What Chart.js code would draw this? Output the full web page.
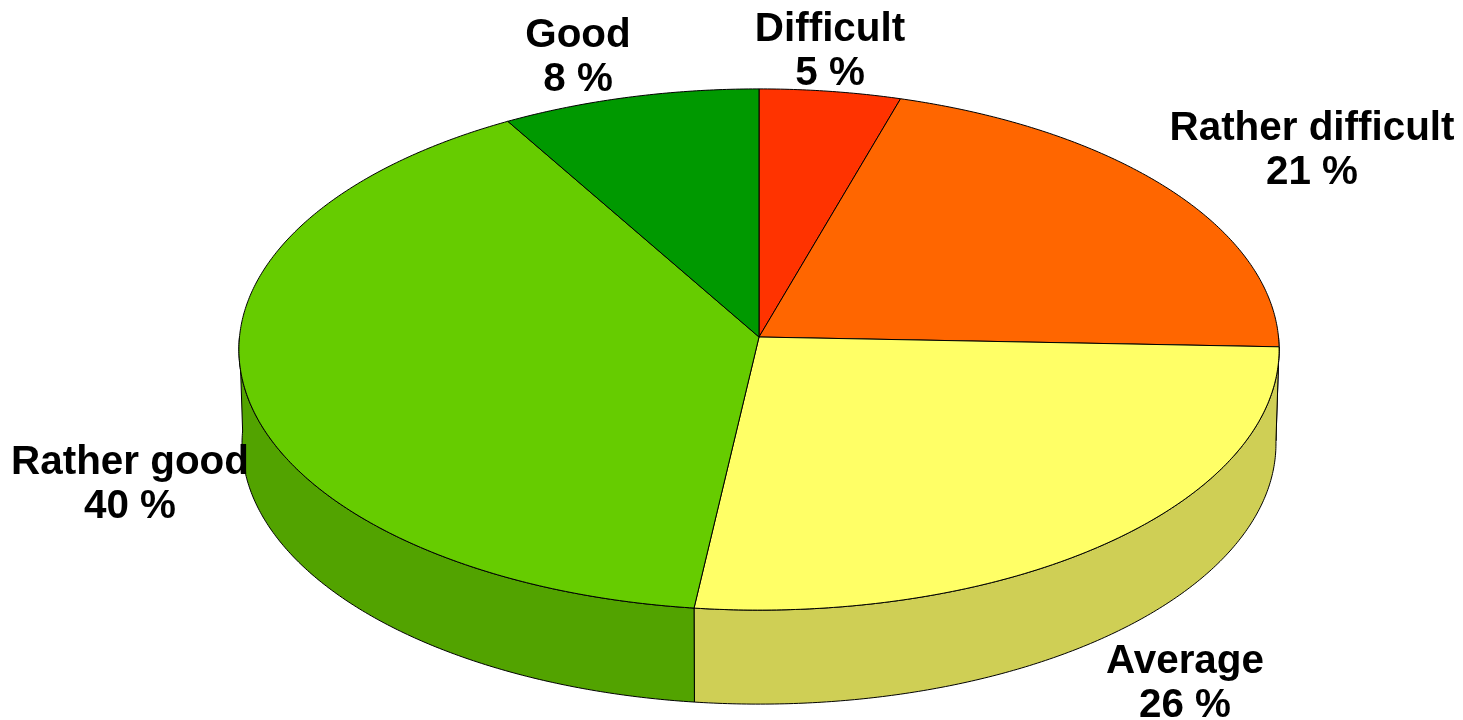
<!DOCTYPE html>
<html>
<head>
<meta charset="utf-8">
<style>
  html, body { margin: 0; padding: 0; background: #fff; overflow: hidden; }
  canvas { display: block; }
</style>
<script src="https://cdn.jsdelivr.net/npm/chart.js@4"></script>
</head>
<body>
<canvas id="pie" width="1463" height="720"></canvas>
<script>
// values, clockwise from 12 o'clock
const categories = ["Difficult", "Rather difficult", "Average", "Rather good", "Good"];
const shares = [4.6, 21, 26.3, 39.7, 8.4];
const topColors = ["#ff3300", "#ff6600", "#ffff66", "#66cc00", "#009900"];
const wallColors = ["#cc2900", "#cc5200", "#cfcf55", "#52a300", "#007a00"];

// label centres, first line baseline
const labelSpots = [[830, 41], [1312, 140], [1185, 673], [130, 474], [578, 47]];

// slightly perspective tilted disc
const view = { cx: 759, cy: 337, rx: 519.5, ry: 260, k: 0.048, depth: 94, shrink: 0.994 };

function topPoint(a) {
  const u = Math.cos(a), v = Math.sin(a);
  const d = 1 - view.k * v;
  return [view.cx + view.rx * u / d, view.cy + view.ry * v / d];
}

function bottomPoint(a) {
  const p = topPoint(a);
  return [view.cx + (p[0] - view.cx) * view.shrink, p[1] + view.depth];
}

const pie3d = {
  id: "pie3d",
  beforeDatasetsDraw(chart) {
    const ctx = chart.ctx;
    const arcs = chart.getDatasetMeta(0).data;
    const step = Math.PI / 360;
    ctx.save();
    ctx.lineWidth = 1;
    ctx.strokeStyle = "#000";
    ctx.lineJoin = "round";

    // walls, front half only
    arcs.forEach((arc, i) => {
      const from = Math.max(arc.startAngle, 0);
      const to = Math.min(arc.endAngle, Math.PI);
      if (to <= from) return;
      ctx.beginPath();
      for (let a = from; a < to; a += step) ctx.lineTo(...topPoint(a));
      ctx.lineTo(...topPoint(to));
      for (let a = to; a > from; a -= step) ctx.lineTo(...bottomPoint(a));
      ctx.lineTo(...bottomPoint(from));
      ctx.closePath();
      ctx.fillStyle = wallColors[i];
      ctx.fill();
      ctx.stroke();
    });

    // top face
    arcs.forEach((arc, i) => {
      ctx.beginPath();
      ctx.moveTo(view.cx, view.cy);
      for (let a = arc.startAngle; a < arc.endAngle; a += step) ctx.lineTo(...topPoint(a));
      ctx.lineTo(...topPoint(arc.endAngle));
      ctx.closePath();
      ctx.fillStyle = topColors[i];
      ctx.fill();
      ctx.stroke();
    });
    ctx.restore();
    return false; // arcs already painted
  },
  afterDraw(chart) {
    const ctx = chart.ctx;
    ctx.save();
    ctx.fillStyle = "#000";
    ctx.font = "bold 40.4px 'Liberation Sans'";
    ctx.textAlign = "center";
    categories.forEach((name, i) => {
      const spot = labelSpots[i];
      ctx.fillText(name, spot[0], spot[1]);
      ctx.fillText(Math.round(shares[i]) + " %", spot[0], spot[1] + 44);
    });
    ctx.restore();
  }
};

new Chart(document.getElementById("pie").getContext("2d"), {
  type: "pie",
  data: {
    labels: categories,
    datasets: [{ data: shares, backgroundColor: topColors }]
  },
  options: {
    responsive: false,
    animation: false,
    plugins: { legend: { display: false }, tooltip: { enabled: false } }
  },
  plugins: [pie3d]
});
</script>
</body>
</html>
